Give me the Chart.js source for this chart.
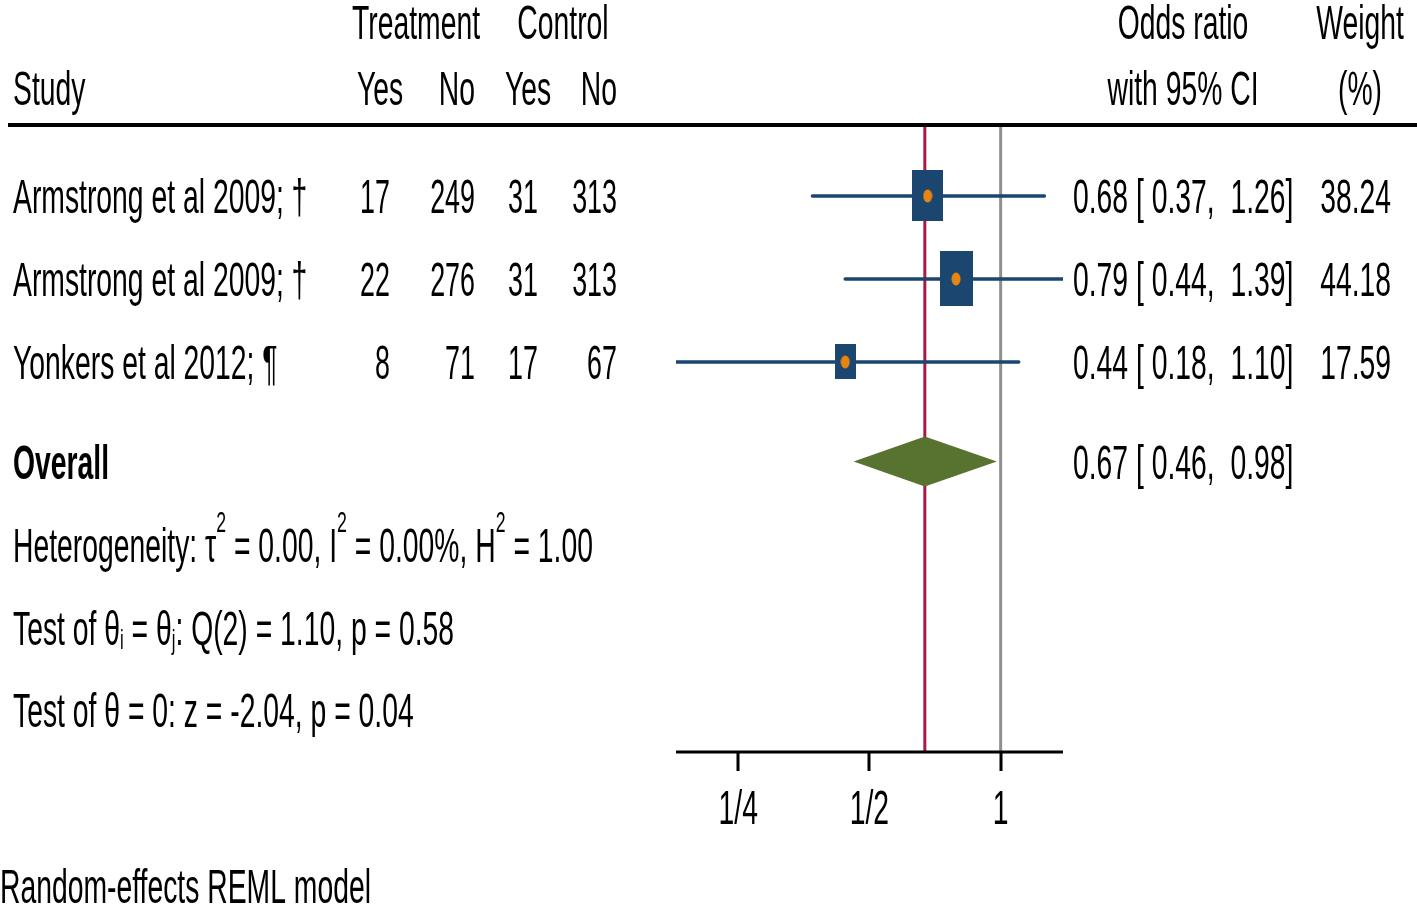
<!DOCTYPE html>
<html>
<head>
<meta charset="utf-8">
<script src="https://cdn.jsdelivr.net/npm/chart.js@4"></script>
<style>
  html, body { margin: 0; padding: 0; background: #ffffff; }
  #wrap { width: 1417px; height: 906px; }
</style>
</head>
<body>
<div id="wrap"><canvas id="forest" width="1417" height="906"></canvas></div>
<script>
// Study-level data
const studyNames = ['Armstrong et al 2009; †', 'Armstrong et al 2009; †', 'Yonkers et al 2012; ¶'];
const treatYes = [17, 22, 8];
const treatNo = [249, 276, 71];
const ctrlYes = [31, 31, 17];
const ctrlNo = [313, 313, 67];
const oddsRatio = [0.68, 0.79, 0.44];
const ciLow = [0.37, 0.44, 0.18];
const ciHigh = [1.26, 1.39, 1.10];
const weights = [38.24, 44.18, 17.59];

// Pooled estimate
const overallOR = 0.67;
const overallLow = 0.46;
const overallHigh = 0.98;

// Axis
const xTicks = [0.25, 0.5, 1];
const xTickLabels = ['1/4', '1/2', '1'];

// Row positions (in row units, top to bottom)
const studyRows = [1, 2, 3];
const overallRow = 4.2;
const statRows = [5.21, 6.2, 7.19];
const headerRows = [-1.1, -0.3];

const colors = {
  box: '#1b4670',
  dot: '#e8850e',
  ref: '#8f8f8f',
  pooled: '#ad1745',
  diamond: '#587230',
  text: '#000000'
};

const FONT = '"Liberation Sans", Arial, "Helvetica", sans-serif';
const SIZE = 48;
const SQUEEZE = 0.59; // the original uses a very condensed face

function drawText(ctx, str, x, y, align, opt) {
  opt = opt || {};
  const size = opt.size || SIZE;
  const sq = opt.squeeze || SQUEEZE;
  ctx.save();
  ctx.font = (opt.bold ? 'bold ' : '') + size + 'px ' + FONT;
  const w = ctx.measureText(str).width * sq;
  let x0 = x;
  if (align === 'right') x0 = x - w;
  else if (align === 'center') x0 = x - w / 2;
  ctx.translate(x0, y);
  ctx.scale(sq, 1);
  ctx.fillStyle = colors.text;
  ctx.textAlign = 'left';
  ctx.textBaseline = 'alphabetic';
  ctx.fillText(str, 0, 0);
  ctx.restore();
  return w;
}

// text with super/subscripts, parts = [[text, 'sup'|'sub'|undefined], ...]
function drawRich(ctx, parts, x, y) {
  let cx = x;
  parts.forEach(p => {
    if (p[1] === 'sup') cx += drawText(ctx, p[0], cx, y - 30, 'left', { size: 30 });
    else if (p[1] === 'sub') cx += drawText(ctx, p[0], cx, y + 4, 'left', { size: 28 });
    else cx += drawText(ctx, p[0], cx, y, 'left');
  });
}

function boxCanvas(w) {
  const c = document.createElement('canvas');
  const s = Math.sqrt(w);
  c.width = Math.round(s * 4.95);
  c.height = Math.round(s * 8.3);
  const g = c.getContext('2d');
  g.fillStyle = colors.box;
  g.fillRect(0, 0, c.width, c.height);
  return c;
}

function dotCanvas() {
  const c = document.createElement('canvas');
  c.width = 10;
  c.height = 14;
  const g = c.getContext('2d');
  g.fillStyle = colors.dot;
  g.beginPath();
  g.ellipse(5, 7, 4.5, 6.5, 0, 0, Math.PI * 2);
  g.fill();
  return c;
}

const fmt = v => v.toFixed(2);

const textPlugin = {
  id: 'forestText',
  afterDraw(chart) {
    const ctx = chart.ctx;
    const xs = chart.scales.x;
    const ys = chart.scales.y;
    const area = chart.chartArea;
    const base = r => ys.getPixelForValue(r) + 17;

    // header
    drawText(ctx, 'Treatment', 416, base(headerRows[0]), 'center');
    drawText(ctx, 'Control', 563, base(headerRows[0]), 'center');
    drawText(ctx, 'Odds ratio', 1183, base(headerRows[0]), 'center');
    drawText(ctx, 'Weight', 1360, base(headerRows[0]), 'center');
    drawText(ctx, 'Study', 13, base(headerRows[1]), 'left');
    drawText(ctx, 'Yes', 380, base(headerRows[1]), 'center');
    drawText(ctx, 'No', 475, base(headerRows[1]), 'right');
    drawText(ctx, 'Yes', 528, base(headerRows[1]), 'center');
    drawText(ctx, 'No', 617, base(headerRows[1]), 'right');
    drawText(ctx, 'with 95% CI', 1183, base(headerRows[1]), 'center');
    drawText(ctx, '(%)', 1360, base(headerRows[1]), 'center');

    ctx.save();
    ctx.strokeStyle = '#000';
    ctx.lineWidth = 4;
    ctx.beginPath();
    ctx.moveTo(8, area.top - 1);
    ctx.lineTo(1417, area.top - 1);
    ctx.stroke();
    ctx.restore();

    // study rows
    studyRows.forEach((r, i) => {
      const y = base(r);
      drawText(ctx, studyNames[i], 13, y, 'left');
      drawText(ctx, String(treatYes[i]), 390, y, 'right', { squeeze: 0.56 });
      drawText(ctx, String(treatNo[i]), 475, y, 'right', { squeeze: 0.56 });
      drawText(ctx, String(ctrlYes[i]), 538, y, 'right', { squeeze: 0.56 });
      drawText(ctx, String(ctrlNo[i]), 617, y, 'right', { squeeze: 0.56 });
      drawText(ctx, fmt(oddsRatio[i]) + ' [ ' + fmt(ciLow[i]) + ',  ' + fmt(ciHigh[i]) + ']', 1073, y, 'left');
      drawText(ctx, fmt(weights[i]), 1391, y, 'right');
    });

    // overall
    drawText(ctx, 'Overall', 13, base(overallRow), 'left', { bold: true });
    drawText(ctx, fmt(overallOR) + ' [ ' + fmt(overallLow) + ',  ' + fmt(overallHigh) + ']', 1073, base(overallRow), 'left');

    drawRich(ctx, [['Heterogeneity: τ'], ['2', 'sup'], [' = 0.00, I'], ['2', 'sup'], [' = 0.00%, H'], ['2', 'sup'], [' = 1.00']], 13, base(statRows[0]));
    drawRich(ctx, [['Test of θ'], ['i', 'sub'], [' = θ'], ['j', 'sub'], [': Q(2) = 1.10, p = 0.58']], 13, base(statRows[1]));
    drawRich(ctx, [['Test of θ = 0: z = -2.04, p = 0.04']], 13, base(statRows[2]));

    // x axis
    ctx.save();
    ctx.strokeStyle = '#000';
    ctx.lineWidth = 3;
    ctx.beginPath();
    ctx.moveTo(area.left, area.bottom);
    ctx.lineTo(area.right, area.bottom);
    xTicks.forEach(t => {
      const px = Math.round(xs.getPixelForValue(t));
      ctx.moveTo(px, area.bottom);
      ctx.lineTo(px, area.bottom + 19);
    });
    ctx.stroke();
    ctx.restore();
    xTicks.forEach((t, i) => {
      drawText(ctx, xTickLabels[i], xs.getPixelForValue(t), area.bottom + 72, 'center');
    });

    drawText(ctx, 'Random-effects REML model', 0, 903, 'left', { size: 48 });
  },
  afterDatasetsDraw(chart) {
    // pooled diamond
    const ctx = chart.ctx;
    const xs = chart.scales.x;
    const ys = chart.scales.y;
    const cy = ys.getPixelForValue(overallRow);
    ctx.save();
    ctx.fillStyle = colors.diamond;
    ctx.beginPath();
    ctx.moveTo(xs.getPixelForValue(overallLow), cy);
    ctx.lineTo(xs.getPixelForValue(overallOR), cy - 25);
    ctx.lineTo(xs.getPixelForValue(overallHigh), cy);
    ctx.lineTo(xs.getPixelForValue(overallOR), cy + 25);
    ctx.closePath();
    ctx.fill();
    ctx.restore();
  }
};

const yMin = 0.157;
const yMax = 7.7;

const datasets = [
  {
    type: 'line', order: 10,
    data: [{ x: 1, y: yMin }, { x: 1, y: yMax }],
    borderColor: colors.ref, borderWidth: 3, pointRadius: 0
  },
  {
    type: 'line', order: 9,
    data: [{ x: overallOR, y: yMin }, { x: overallOR, y: yMax }],
    borderColor: colors.pooled, borderWidth: 3, pointRadius: 0
  }
];

studyRows.forEach((r, i) => {
  datasets.push({
    type: 'line', order: 5,
    data: [{ x: ciLow[i], y: r }, { x: ciHigh[i], y: r }],
    borderColor: colors.box, borderWidth: 3.5, pointRadius: 0, borderCapStyle: 'round'
  });
});

datasets.push({
  type: 'scatter', order: 3,
  data: studyRows.map((r, i) => ({ x: oddsRatio[i], y: r })),
  pointStyle: weights.map(boxCanvas),
  pointRadius: 10
});

const dot = dotCanvas();
datasets.push({
  type: 'scatter', order: 2,
  data: studyRows.map((r, i) => ({ x: oddsRatio[i], y: r })),
  pointStyle: studyRows.map(() => dot),
  pointRadius: 5
});

new Chart(document.getElementById('forest'), {
  type: 'scatter',
  data: { datasets: datasets },
  options: {
    responsive: false,
    animation: false,
    devicePixelRatio: 1,
    layout: { padding: { left: 676, right: 354, top: 126, bottom: 154 } },
    scales: {
      x: { type: 'logarithmic', min: 0.18, max: 1.39, bounds: 'data', display: false },
      y: { type: 'linear', min: yMin, max: yMax, reverse: true, display: false }
    },
    plugins: {
      legend: { display: false },
      tooltip: { enabled: false }
    },
    events: []
  },
  plugins: [textPlugin]
});
</script>
</body>
</html>
